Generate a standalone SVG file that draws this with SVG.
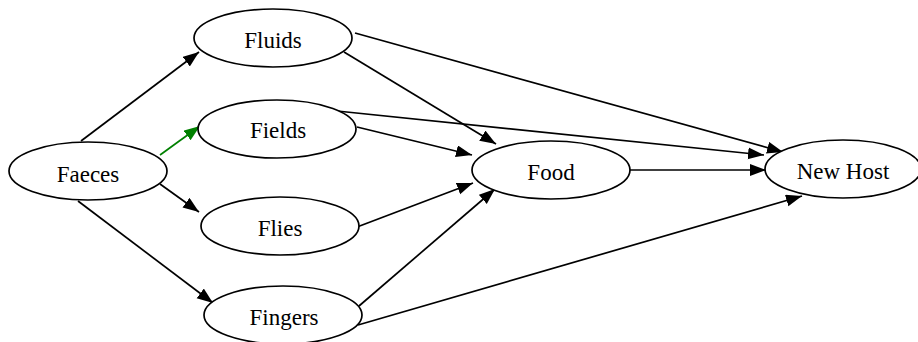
<svg xmlns="http://www.w3.org/2000/svg" width="918" height="342" viewBox="0 0 918 342">
<style>
.n ellipse{fill:#fff;stroke:#000;stroke-width:1.7}
.n text{font-family:"Liberation Serif","Times New Roman",serif;font-size:23px;fill:#000;text-anchor:middle}
.e line{stroke:#000;stroke-width:1.7;marker-end:url(#ah)}
.e line.g{stroke:#008000;marker-end:url(#ahg)}
</style>
<defs>
<marker id="ah" markerUnits="userSpaceOnUse" markerWidth="17" markerHeight="13" refX="16" refY="6" orient="auto"><path d="M0,0 L16,6 L0,12 z" fill="#000"/></marker>
<marker id="ahg" markerUnits="userSpaceOnUse" markerWidth="17" markerHeight="13" refX="16" refY="6" orient="auto"><path d="M0,0 L16,6 L0,12 z" fill="#008000"/></marker>
</defs>
<rect width="918" height="342" fill="#fff"/>
<g id="edges" class="e">
<line x1="81" y1="141" x2="199" y2="52"/>
<line class="g" x1="160" y1="155" x2="200" y2="126"/>
<line x1="160" y1="184" x2="199" y2="212"/>
<line x1="78" y1="201" x2="213" y2="303"/>
<line x1="355" y1="33" x2="783" y2="152"/>
<line x1="344" y1="52" x2="496" y2="144"/>
<line x1="337" y1="111" x2="764" y2="155"/>
<line x1="357" y1="127" x2="472" y2="155"/>
<line x1="357" y1="227" x2="473" y2="183"/>
<line x1="359" y1="306" x2="495" y2="189"/>
<line x1="629" y1="170" x2="766" y2="170"/>
<line x1="358" y1="325" x2="802" y2="196"/>
</g>
<g id="faeces" class="n"><ellipse cx="88" cy="171" rx="79" ry="29"/><text x="88" y="182">Faeces</text></g>
<g id="fluids" class="n"><ellipse cx="273" cy="38" rx="79" ry="29"/><text x="273" y="48">Fluids</text></g>
<g id="fields" class="n"><ellipse cx="277" cy="129" rx="79" ry="29"/><text x="278" y="138">Fields</text></g>
<g id="flies" class="n"><ellipse cx="280" cy="226" rx="79" ry="29"/><text x="280" y="236">Flies</text></g>
<g id="fingers" class="n"><ellipse cx="283" cy="315" rx="79" ry="29"/><text x="284" y="325">Fingers</text></g>
<g id="food" class="n"><ellipse cx="551" cy="170" rx="79" ry="29"/><text x="551" y="180">Food</text></g>
<g id="newhost" class="n"><ellipse cx="843" cy="169" rx="78" ry="29"/><text x="843" y="179">New Host</text></g>
</svg>
